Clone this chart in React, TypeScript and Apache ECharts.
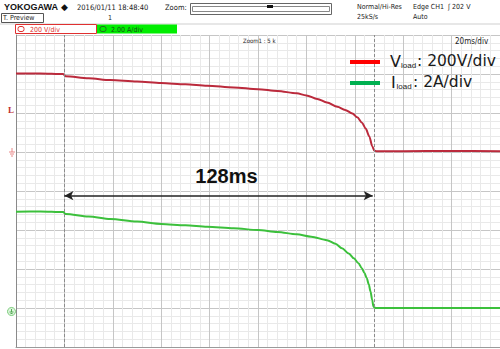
import React, { useEffect, useRef } from "react";
import * as echarts from "echarts";

// ---- data ----
const redTimeMs = [0, 10, 19.5, 20.5, 30, 39, 50, 60, 70, 79, 90, 100, 108, 116, 120, 124.5, 128.5, 132.8, 136, 139, 141, 143, 144.5, 146, 147.2, 148, 149, 160, 180, 200];
const redVolts = [402, 403, 400, 388, 378, 369, 361, 354, 347, 340, 331, 322, 313, 301, 290, 272, 254, 232, 216, 198, 178, 150, 120, 80, 30, 8, 4, 4, 5, 4];
const greenTimeMs = [0, 10, 19.5, 20.5, 30, 39, 50, 60, 70, 79, 90, 100, 108, 116, 122, 128.5, 132, 134.7, 137.5, 139.6, 141.5, 142.9, 144, 144.9, 145.8, 146.5, 147.2, 147.7, 148.5, 170, 200];
const greenAmps = [4.94, 4.95, 4.92, 4.82, 4.69, 4.56, 4.43, 4.31, 4.24, 4.17, 4.09, 4.0, 3.9, 3.78, 3.66, 3.48, 3.3, 3.06, 2.8, 2.55, 2.3, 2.04, 1.8, 1.54, 1.2, 0.84, 0.4, 0.07, 0, 0, 0];
const voltsPerDiv = 200;
const ampsPerDiv = 2;
const redGroundDiv = 5;
const greenGroundDiv = 1;
const cursorTimesMs = [20, 148];
const deltaLabel = "128ms";
const arrowLevelDiv = 3.88;
const timePerDivMs = 20;
const timeSpanMs = 200;
const vertDivs = 8;

const legendV = { name: "V", sub: "load", rest: ": 200V/div" };
const legendI = { name: "I", sub: "load", rest: ": 2A/div" };

const HDR = "'Liberation Sans Narrow', 'DejaVu Sans Condensed', 'Liberation Sans', sans-serif";

export default function App() {
  const ref = useRef<HTMLDivElement>(null);
  useEffect(() => {
    if (!ref.current) return;
    const chart = echarts.init(ref.current, null, { renderer: "svg" });
    const redData = redTimeMs.map((t, i) => [t, redGroundDiv + redVolts[i] / voltsPerDiv]);
    const greenData = greenTimeMs.map((t, i) => [t, greenGroundDiv + greenAmps[i] / ampsPerDiv]);

    const txt = (x: number, y: number, text: string, font: string, fill: string, align = "left", va = "middle") => ({
      type: "text", x, y, silent: true, z: 50,
      style: { text, font, fill, align, verticalAlign: va },
    });
    const ln = (x1: number, y1: number, x2: number, y2: number, stroke: string, lineWidth = 1) => ({
      type: "line", silent: true, z: 50, shape: { x1, y1, x2, y2 }, style: { stroke, lineWidth },
    });
    const rc = (x: number, y: number, width: number, height: number, style: any, r = 0) => ({
      type: "rect", silent: true, z: 50, shape: { x, y, width, height, r }, style,
    });

    const graphic: any[] = [
      // header
      txt(4, 7, "YOKOGAWA", `bold 9px 'Liberation Sans', sans-serif`, "#111"),
      txt(61, 7, "◆", `9px 'DejaVu Sans', sans-serif`, "#111"),
      txt(77, 7, "2016/01/11 18:48:40", `7.5px ${HDR}`, "#222"),
      txt(165, 7, "Zoom:", `7.5px ${HDR}`, "#222"),
      rc(190.5, 3.5, 141, 11, { fill: "#fff", stroke: "#666", lineWidth: 1 }),
      rc(192.5, 6.5, 137, 5, { fill: "#fff", stroke: "#888", lineWidth: 1 }),
      rc(267, 5, 6, 3, { fill: "#111" }),
      txt(357, 7, "Normal/Hi-Res", `7px ${HDR}`, "#222"),
      txt(357, 17, "25kS/s", `7px ${HDR}`, "#222"),
      txt(413, 7, "Edge CH1  \u0283 202 V", `7px ${HDR}`, "#222"),
      txt(413, 17, "Auto", `7px ${HDR}`, "#222"),
      rc(1.5, 13.5, 42, 9, { fill: "#fff", stroke: "#555", lineWidth: 1 }),
      txt(3, 18, "T. Preview", `7px ${HDR}`, "#222"),
      txt(108, 18, "1", `7px ${HDR}`, "#222"),
      ln(0, 24, 500, 24, "#cfcfcf"),
      // channel row
      rc(15.5, 24.5, 81, 9, { fill: "#fff", stroke: "#e03030", lineWidth: 1 }),
      rc(18, 26.5, 6, 5, { fill: "none", stroke: "#e03030", lineWidth: 1 }, 2),
      txt(30, 29.5, "200 V/div", `7px ${HDR}`, "#e03030"),
      rc(97, 24.5, 80, 9, { fill: "#00ee00" }),
      rc(100, 26.5, 6, 5, { fill: "none", stroke: "#207020", lineWidth: 1 }, 2),
      txt(111, 29.5, "2.00 A/div", `7px ${HDR}`, "#1a4a1a"),
      txt(243, 40, "Zoom1 : 5 k", `6px ${HDR}`, "#222"),
      txt(455, 41, "20ms/div", `8px ${HDR}`, "#222"),
      // left markers
      txt(8, 110, "L", `bold 9px 'Liberation Serif', serif`, "#c03030"),
      ln(12, 148, 12, 152, "#e88888"),
      ln(9, 152, 15, 152, "#e88888"),
      ln(10, 154, 14, 154, "#e88888"),
      ln(11, 156, 13, 156, "#e88888"),
      { type: "circle", silent: true, z: 50, shape: { cx: 11.5, cy: 311.5, r: 4 }, style: { fill: "#dff5df", stroke: "#77cc77", lineWidth: 1 } },
      ln(11.5, 309, 11.5, 312, "#55aa55"),
      ln(9.5, 312, 13.5, 312, "#55aa55"),
      ln(10.5, 313.5, 12.5, 313.5, "#55aa55"),
      // legend
      ln(350, 62, 380, 62, "#ff0000", 4),
      ln(350, 83, 380, 83, "#00b050", 4),
      txt(390, 61, legendV.name, `16px 'DejaVu Sans', sans-serif`, "#1a1a1a"),
      txt(401, 65.5, legendV.sub, `8px 'Liberation Sans', sans-serif`, "#1a1a1a"),
      txt(417, 61, legendV.rest, `15.5px 'DejaVu Sans', sans-serif`, "#1a1a1a"),
      txt(391, 82, legendI.name, `16px 'DejaVu Sans', sans-serif`, "#1a1a1a"),
      txt(396.5, 86.5, legendI.sub, `8px 'Liberation Sans', sans-serif`, "#1a1a1a"),
      txt(413, 82, legendI.rest, `15.5px 'DejaVu Sans', sans-serif`, "#1a1a1a"),
      // delta label
      txt(226.5, 176, deltaLabel, `bold 20px 'Liberation Sans', sans-serif`, "#111", "center"),
    ];

    chart.setOption({
      animation: false,
      backgroundColor: "#ffffff",
      grid: { left: 16, top: 35, width: 488, height: 312, containLabel: false },
      xAxis: {
        type: "value", min: 0, max: timeSpanMs, interval: timePerDivMs,
        axisLabel: { show: false }, axisTick: { show: false },
        axisLine: { show: true, lineStyle: { color: "#9a9a9a", width: 1 } },
        splitLine: { show: true, lineStyle: { color: "#c6c6c6", width: 1 } },
        minorTick: { show: false, splitNumber: 5 },
        minorSplitLine: { show: true, lineStyle: { color: "#e9e9e9", width: 1 } },
      },
      yAxis: {
        type: "value", min: 0, max: vertDivs, interval: 1,
        axisLabel: { show: false }, axisTick: { show: false },
        axisLine: { show: true, lineStyle: { color: "#8a8a8a", width: 1 } },
        splitLine: { show: true, lineStyle: { color: "#c6c6c6", width: 1 } },
        minorTick: { show: false, splitNumber: 5 },
        minorSplitLine: { show: true, lineStyle: { color: "#e9e9e9", width: 1 } },
      },
      series: [
        {
          type: "line", name: "Vload", data: redData, showSymbol: false, smooth: 0.3, smoothMonotone: "x",
          lineStyle: { color: "#bb2a3c", width: 2 }, silent: true, z: 3,
          markLine: {
            silent: true, symbol: ["none", "none"], label: { show: false },
            lineStyle: { color: "#8c8c8c", type: [3, 2], width: 1 },
            data: cursorTimesMs.map((t) => ({ xAxis: t })),
          },
        },
        {
          type: "line", name: "Iload", data: greenData, showSymbol: false, smooth: 0.3, smoothMonotone: "x",
          lineStyle: { color: "#3cc03c", width: 2 }, silent: true, z: 3,
          markLine: {
            silent: true, symbol: ["arrow", "arrow"], symbolSize: [7, 9], label: { show: false },
            lineStyle: { color: "#222", type: "solid", width: 1.5 },
            data: [[{ coord: [cursorTimesMs[0], arrowLevelDiv] }, { coord: [cursorTimesMs[1] - 0.6, arrowLevelDiv] }]],
          },
        },
      ],
      graphic,
    });
    return () => chart.dispose();
  }, []);
  return <div ref={ref} style={{ position: "fixed", left: 0, top: 0, width: 500, height: 349 }} />;
}
